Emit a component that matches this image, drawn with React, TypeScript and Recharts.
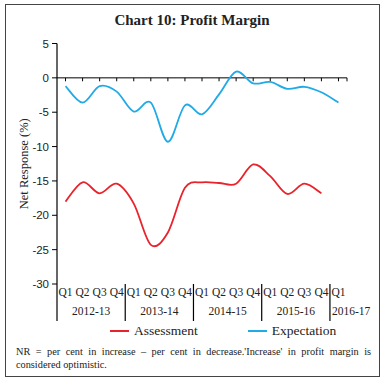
import { CartesianGrid, Line, LineChart, ReferenceLine, XAxis, YAxis } from 'recharts';

// Chart 10: Profit Margin — net response, assessment vs expectation.

const quarters = ['Q1', 'Q2', 'Q3', 'Q4', 'Q1', 'Q2', 'Q3', 'Q4', 'Q1', 'Q2', 'Q3', 'Q4', 'Q1', 'Q2', 'Q3', 'Q4', 'Q1'];
const years = ['2012-13', '2013-14', '2014-15', '2015-16', '2016-17'];
const assessment = [-18.0, -15.2, -16.8, -15.4, -18.3, -24.3, -22.5, -16.0, -15.2, -15.3, -15.4, -12.6, -14.3, -16.9, -15.4, -16.8, null];
const expectation = [-1.2, -3.6, -1.2, -2.0, -4.9, -3.6, -9.3, -4.0, -5.3, -2.4, 0.9, -0.8, -0.6, -1.6, -1.3, -2.1, -3.6];
const yTicks = [5, 0, -5, -10, -15, -20, -25, -30];

const RED = '#e8232b';
const BLUE = '#20aae6';
const SERIF = '"Liberation Serif", "DejaVu Serif", serif';
const SANS = '"Liberation Sans", Arial, sans-serif';

const W = 384;
const H = 382;
const PLOT_LEFT = 57;
const PLOT_RIGHT = 347;
const PLOT_TOP = 43.5;
const PLOT_BOTTOM = 284;
const BAND = (PLOT_RIGHT - PLOT_LEFT) / quarters.length;

const data = quarters.map((q, i) => ({
  key: `${years[Math.floor(i / 4)]} ${q}`,
  q,
  year: years[Math.floor(i / 4)],
  assessment: assessment[i],
  expectation: expectation[i],
}));

// Excel-style smoothed line (Catmull-Rom through the points)
function excelCurve(context: any) {
  let pts: number[][] = [];
  return {
    areaStart() {},
    areaEnd() {},
    lineStart() {
      pts = [];
    },
    lineEnd() {
      if (!pts.length) return;
      context.moveTo(pts[0][0], pts[0][1]);
      for (let i = 0; i < pts.length - 1; i++) {
        const p0 = pts[i - 1] || pts[i];
        const p1 = pts[i];
        const p2 = pts[i + 1];
        const p3 = pts[i + 2] || p2;
        context.bezierCurveTo(
          p1[0] + (p2[0] - p0[0]) / 6,
          p1[1] + (p2[1] - p0[1]) / 6,
          p2[0] - (p3[0] - p1[0]) / 6,
          p2[1] - (p3[1] - p1[1]) / 6,
          p2[0],
          p2[1],
        );
      }
    },
    point(x: number, y: number) {
      pts.push([+x, +y]);
    },
  };
}

function QuarterTick(props: any) {
  const { x, y, index } = props;
  const row = data[index];
  if (!row) return null;
  const inGroup = index % 4;
  const groupSize = Math.min(4, quarters.length - (index - inGroup));
  return (
    <g>
      {inGroup === 0 && (
        <line x1={x - BAND / 2} y1={y} x2={x - BAND / 2} y2={y + 37} stroke="#000" strokeWidth={1.2} />
      )}
      <text x={x} y={y + 12} textAnchor="middle" fontFamily={SERIF} fontSize={11.5} fill="#222">
        {row.q}
      </text>
      {inGroup === 1 && (
        <text x={x + BAND / 2} y={y + 31} textAnchor="middle" fontFamily={SERIF} fontSize={11.5} fill="#222">
          {row.year}
        </text>
      )}
      {inGroup === 0 && groupSize === 1 && (
        <text x={x - BAND / 2 + 2} y={y + 31} textAnchor="start" fontFamily={SERIF} fontSize={11.5} fill="#222">
          {row.year}
        </text>
      )}
    </g>
  );
}

function ZeroLine(props: any) {
  const { x1, y1, x2 } = props;
  return (
    <g>
      <line x1={x1} y1={y1} x2={x2} y2={y1} stroke="#000" strokeWidth={1} />
      <line x1={x2} y1={y1} x2={x2} y2={y1 + 3.5} stroke="#000" strokeWidth={1} />
    </g>
  );
}

function LegendItem({ color, label }: { color: string; label: string }) {
  return (
    <div style={{ display: 'flex', alignItems: 'center' }}>
      <div style={{ width: 19, height: 2.5, background: color, marginRight: 5 }} />
      <span style={{ fontFamily: SERIF, fontSize: 13.5, color: '#222' }}>{label}</span>
    </div>
  );
}

export default function App() {
  return (
    <div style={{ position: 'absolute', left: 0, top: 0, width: W, height: H, background: '#fff' }}>
      <div
        style={{
          position: 'absolute',
          left: 5,
          top: 4,
          width: 375,
          height: 373,
          border: '1.5px solid #444',
          boxSizing: 'border-box',
        }}
      />
      <div
        style={{
          position: 'absolute',
          left: 0,
          top: 12,
          width: W,
          textAlign: 'center',
          fontFamily: SERIF,
          fontWeight: 'bold',
          fontSize: 15,
          color: '#222',
        }}
      >
        Chart 10: Profit Margin
      </div>
      <div style={{ position: 'absolute', left: 0, top: 0 }}>
        <LineChart
          width={W}
          height={H}
          data={data}
          margin={{ top: PLOT_TOP, right: W - PLOT_RIGHT, left: 0, bottom: 0 }}
        >
          <CartesianGrid stroke="none" />
          <XAxis
            dataKey="key"
            axisLine={false}
            tickLine={false}
            tickSize={0}
            tickMargin={0}
            interval={0}
            padding={{ left: BAND / 2, right: BAND / 2 }}
            height={H - PLOT_BOTTOM}
            tick={<QuarterTick />}
          />
          <YAxis
            domain={[-30, 5]}
            ticks={yTicks}
            interval={0}
            width={PLOT_LEFT}
            axisLine={{ stroke: '#000', strokeWidth: 1.2 }}
            tickLine={{ stroke: '#000' }}
            tickSize={5}
            tickMargin={3}
            tick={{ fontFamily: SANS, fontSize: 11.5, fill: '#222' }}
            label={{
              value: 'Net Response (%)',
              angle: -90,
              position: 'insideLeft',
              offset: 24,
              style: { fontFamily: SERIF, fontSize: 12.5, fill: '#222', textAnchor: 'middle' },
            }}
          />
          <ReferenceLine y={0} shape={<ZeroLine />} />
          {data.map((d) => (
            <ReferenceLine
              key={d.key}
              segment={[
                { x: d.key, y: 0 },
                { x: d.key, y: -0.5 },
              ]}
              stroke="#000"
              strokeWidth={1}
            />
          ))}
          <Line
            dataKey="assessment"
            type={excelCurve as any}
            stroke={RED}
            strokeWidth={1.8}
            dot={false}
            isAnimationActive={false}
          />
          <Line
            dataKey="expectation"
            type={excelCurve as any}
            stroke={BLUE}
            strokeWidth={1.8}
            dot={false}
            isAnimationActive={false}
          />
        </LineChart>
      </div>
      <div style={{ position: 'absolute', left: 110, top: 323, display: 'flex', gap: 50 }}>
        <LegendItem color={RED} label="Assessment" />
        <LegendItem color={BLUE} label="Expectation" />
      </div>
      <div
        style={{
          position: 'absolute',
          left: 16,
          top: 345,
          width: 355,
          fontFamily: SERIF,
          fontSize: 10.3,
          lineHeight: '13px',
          color: '#222',
          textAlign: 'justify',
        }}
      >
        NR = per cent in increase – per cent in decrease.'Increase' in profit margin is considered optimistic.
      </div>
    </div>
  );
}
